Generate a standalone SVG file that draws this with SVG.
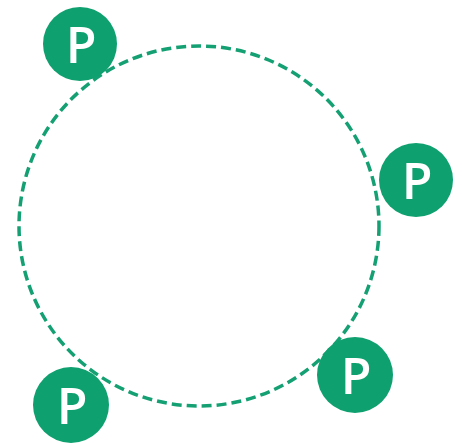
<svg xmlns="http://www.w3.org/2000/svg" width="462" height="443" viewBox="0 0 462 443">
<style>
.ring{fill:none;stroke:#14a072;stroke-width:3.5;stroke-dasharray:10 5}
.node circle{fill:#0fa070}
.node text{fill:#fff;font-family:"Open Sans","Liberation Sans",sans-serif;font-weight:600;font-size:50px;text-anchor:middle}
</style>
<rect width="462" height="443" fill="#fff"/>
<g id="connectors">
<circle class="ring" cx="199" cy="226" r="180"/>
</g>
<g id="p1" class="node"><circle cx="80" cy="44" r="37"/><text x="81" y="63">P</text></g>
<g id="p2" class="node"><circle cx="416" cy="180" r="37"/><text x="417" y="199">P</text></g>
<g id="p3" class="node"><circle cx="355" cy="375" r="38"/><text x="356" y="394">P</text></g>
<g id="p4" class="node"><circle cx="71" cy="405" r="38"/><text x="72" y="424">P</text></g>
</svg>
